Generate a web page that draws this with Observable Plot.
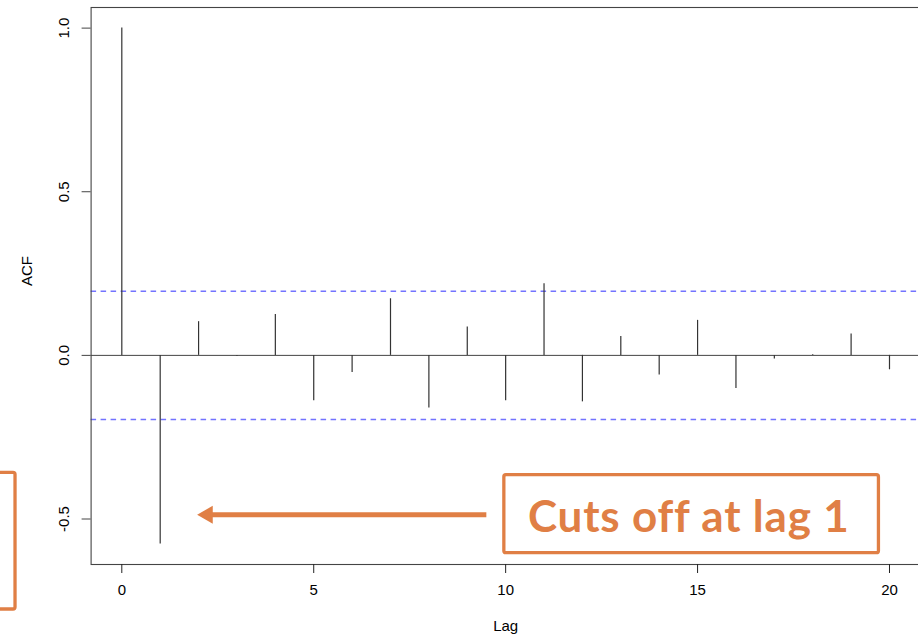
<!DOCTYPE html>
<html>
<head>
<meta charset="utf-8">
<script src="https://cdn.jsdelivr.net/npm/d3@7"></script>
<script src="https://cdn.jsdelivr.net/npm/@observablehq/plot@0.6"></script>
<style>
  html, body { margin: 0; padding: 0; background: #fff; overflow: hidden; }
  #chart { width: 918px; height: 638px; overflow: hidden; }
  #chart svg { display: block; max-width: none !important; }
</style>
</head>
<body>
<div id="chart"></div>
<script>
// ACF values (lags 0..20)
const lags = [0, 1, 2, 3, 4, 5, 6, 7, 8, 9, 10, 11, 12, 13, 14, 15, 16, 17, 18, 19, 20];
const acfValues = [1.0, -0.576, 0.103, -0.003, 0.125, -0.139, -0.052, 0.173, -0.161, 0.087,
                   -0.139, 0.219, -0.142, 0.058, -0.060, 0.107, -0.101, -0.011, 0.002, 0.065, -0.044];
const ciBound = 0.196; // 1.96 / sqrt(100)
const xTicks = [0, 5, 10, 15, 20];
const yTicks = [-0.5, 0.0, 0.5, 1.0];
const xLabel = "Lag";
const yLabel = "ACF";
const annotationText = "Cuts off at lag 1";
// annotation geometry in data units
const noteBox = [{x1: 9.966, x2: 19.725, y1: -0.366, y2: -0.6045}];
const sideBox = [{x1: -3.5, x2: -2.769, y1: -0.359, y2: -0.7765}];
const arrowShaft = [{x1: 9.497, x2: 2.3, y: -0.487}];
const arrowHead = [{x: 2.234, y: -0.487}];
const noteLabel = [{x: 14.77, y: -0.496, text: annotationText}];

const data = lags.map((lag, i) => ({lag, acf: acfValues[i]}));
const orange = "#E07F45";
const fmt = d => d.toFixed(1);
const fmtX = d => String(d);

const chart = Plot.plot({
  width: 922,
  height: 638,
  marginLeft: 90.6,
  marginRight: 2.3,
  marginTop: 7,
  marginBottom: 74,
  style: {fontFamily: "'Liberation Sans', Arial, sans-serif", fontSize: "15px", background: "#fff", color: "#000", maxWidth: "none"},
  x: {domain: [-0.8, 20.8]},
  y: {domain: [-0.639, 1.063]},
  marks: [
    Plot.ruleY([ciBound, -ciBound], {stroke: "#5a5aff", strokeOpacity: 0.85, strokeWidth: 1.4, strokeDasharray: "5.5,4.5"}),
    Plot.ruleY([0], {stroke: "#444", strokeWidth: 1}),
    Plot.ruleX(data, {x: "lag", y1: 0, y2: "acf", stroke: "#333", strokeWidth: 1.2}),
    Plot.frame({stroke: "#444", strokeWidth: 1.1}),
    Plot.axisX({ticks: xTicks, tickFormat: fmtX, tickSize: 9, tickPadding: 11, fontSize: 15, label: null, stroke: "#222"}),
    Plot.axisY({ticks: yTicks, tickFormat: () => "", tickSize: 9, label: null, stroke: "#444"}),
    Plot.text(yTicks, {y: d => d, text: fmt, frameAnchor: "left", dx: -27, rotate: -90, fontSize: 15, textAnchor: "middle"}),
    Plot.text([yLabel], {frameAnchor: "left", dx: -64, rotate: -90, fontSize: 15}),
    Plot.text([xLabel], {frameAnchor: "bottom", dy: 66, fontSize: 15}),
    // annotations
    Plot.rect(noteBox, {x1: "x1", x2: "x2", y1: "y1", y2: "y2", fill: "none", stroke: orange, strokeWidth: 3.3, rx: 2}),
    Plot.rect(sideBox, {x1: "x1", x2: "x2", y1: "y1", y2: "y2", fill: "none", stroke: orange, strokeWidth: 3.3, rx: 2}),
    Plot.link(arrowShaft, {x1: "x1", x2: "x2", y1: "y", y2: "y", stroke: orange, strokeWidth: 5}),
    Plot.dot(arrowHead, {x: "x", y: "y", symbol: "triangle", r: 6.7, rotate: -90, fill: orange, stroke: "none"}),
    Plot.text(noteLabel, {x: "x", y: "y", text: "text", fill: orange, fontSize: 44, fontWeight: "bold", fontFamily: "Lato, 'Open Sans', sans-serif"})
  ]
});
chart.style.maxWidth = "none";
d3.select(chart).selectAll("text").filter(function() {
  return this.textContent === annotationText;
}).style("letter-spacing", "0.8px");
document.getElementById("chart").appendChild(chart);
</script>
</body>
</html>
